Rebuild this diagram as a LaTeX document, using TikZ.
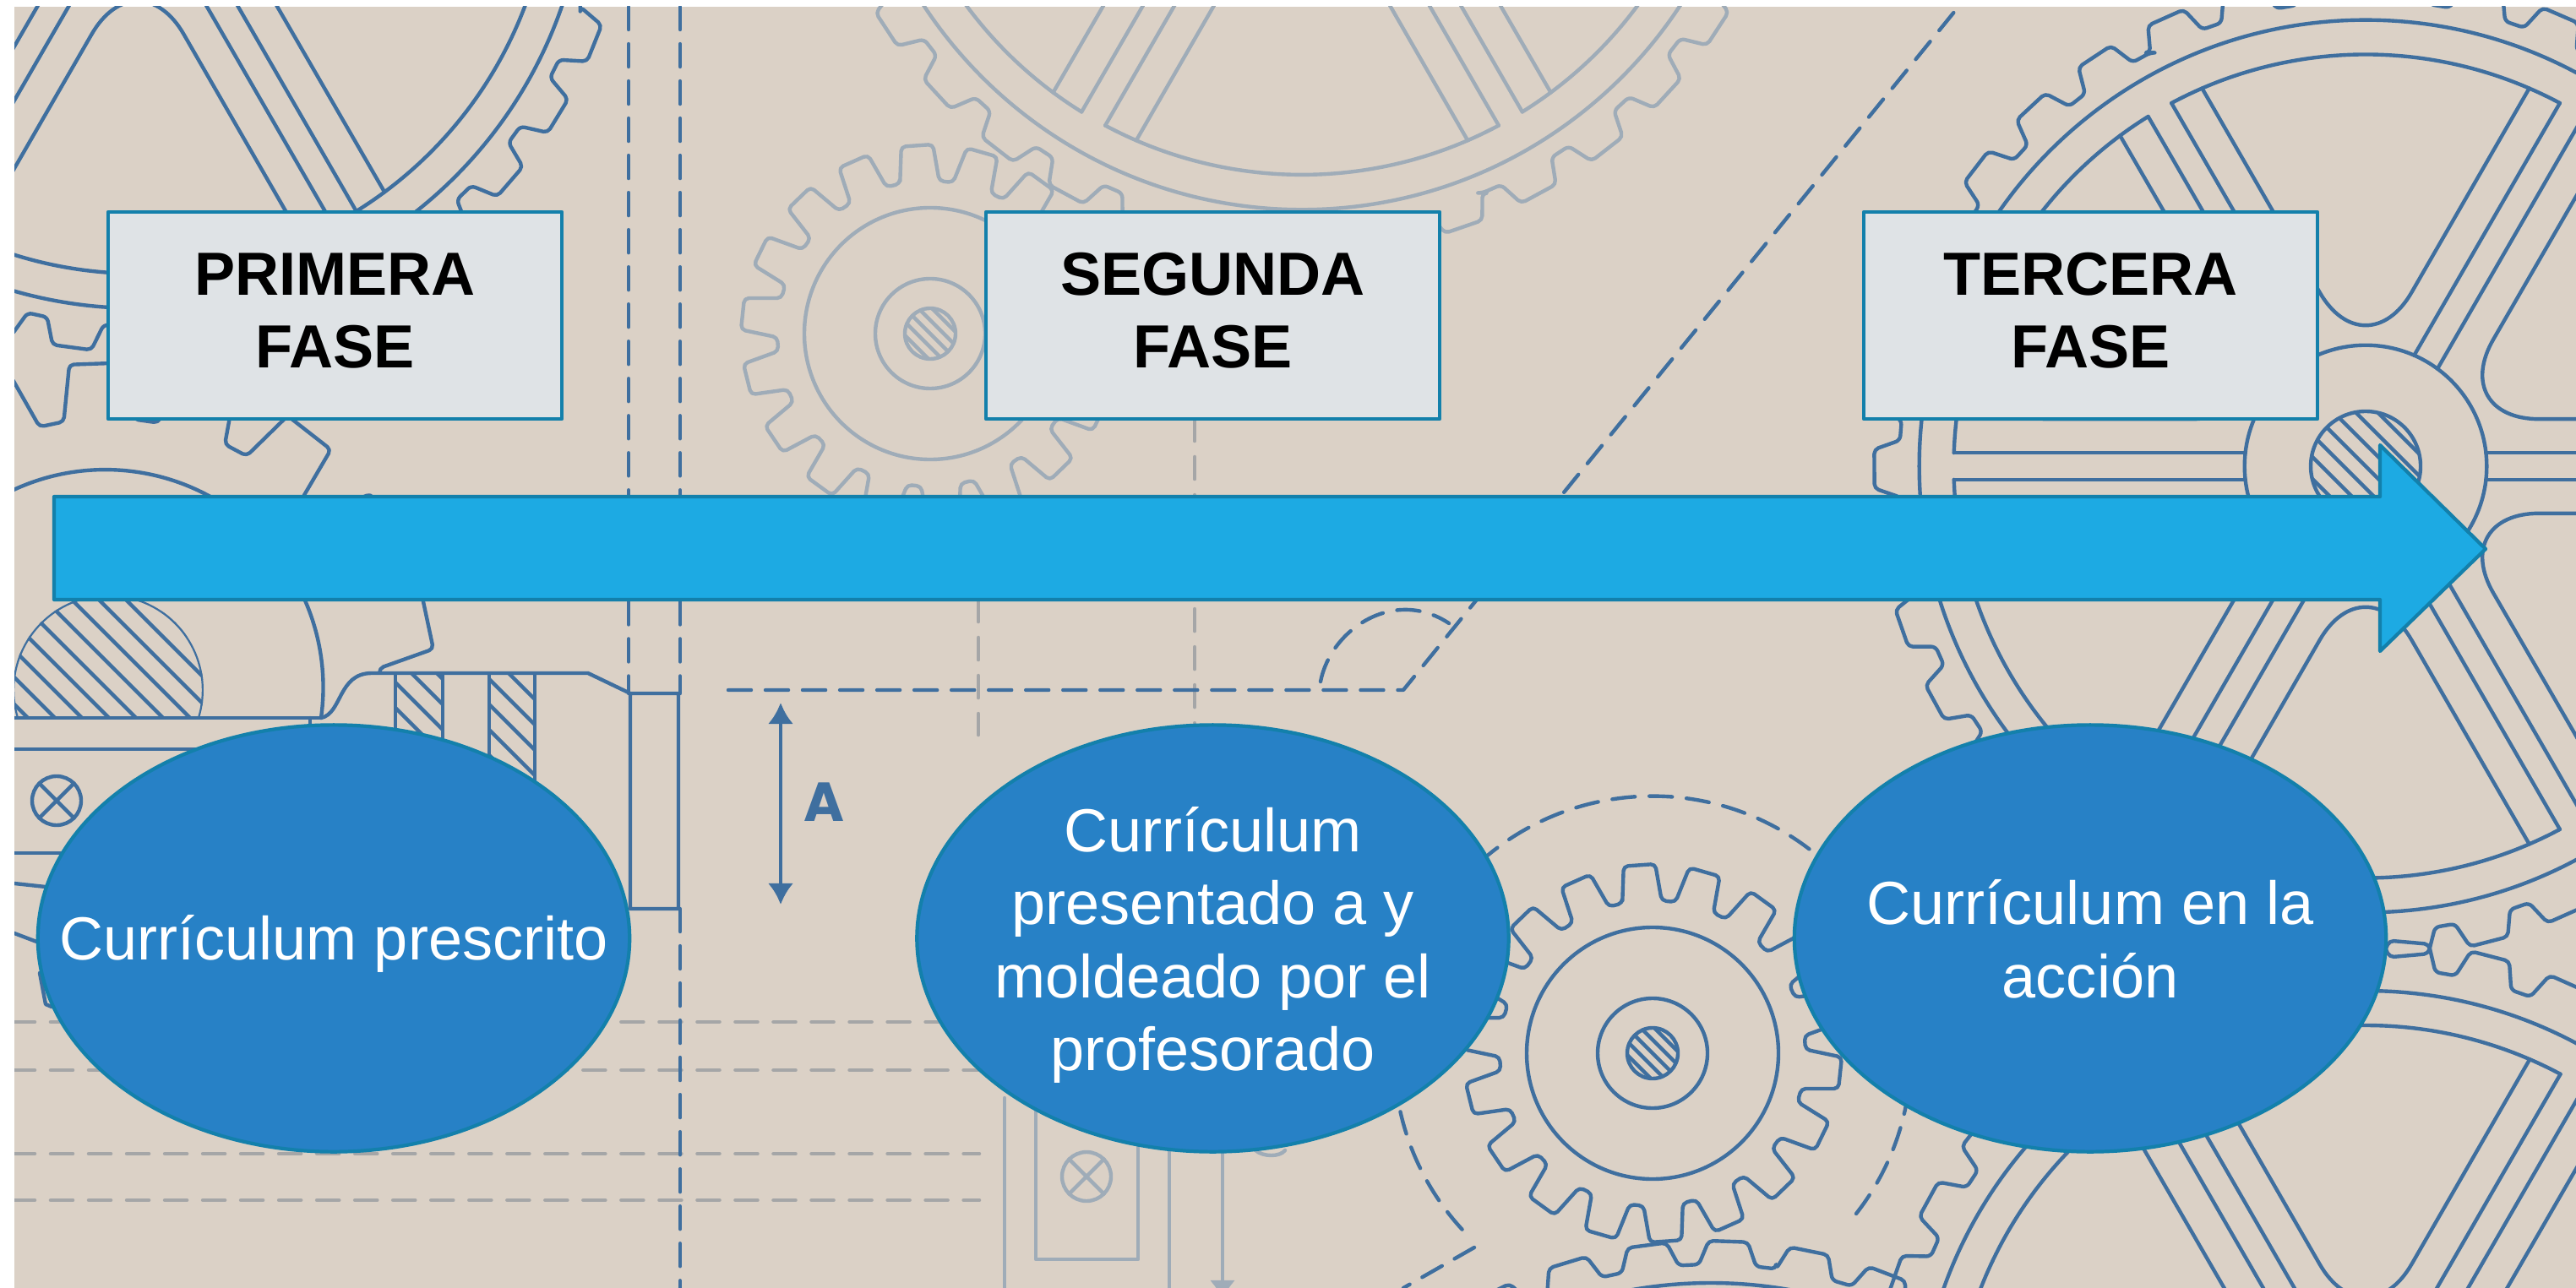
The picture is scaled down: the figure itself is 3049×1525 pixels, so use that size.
\documentclass[tikz,border=0pt]{standalone}
\usepackage{fontspec}
\setmainfont{Liberation Sans}
\newfontfamily\dimfont{Poppins}
\usetikzlibrary{arrows.meta}
\usetikzlibrary{shapes.geometric}
\definecolor{paper}{HTML}{DBD1C6}
\definecolor{gearblue}{HTML}{3F6F9F}
\definecolor{fadedblue}{HTML}{9FACB8}
\definecolor{dashgrey}{HTML}{A5A6A7}
\definecolor{rimteal}{HTML}{1380AB}
\definecolor{boxgrey}{HTML}{DFE3E6}
\definecolor{shaftblue}{HTML}{1DAAE3}
\definecolor{ovalblue}{HTML}{2781C6}
\tikzset{
  gearline/.style={color=gearblue,line width=1.25pt},
  fadedline/.style={color=fadedblue,line width=1.25pt},
  longdash/.style={dash pattern=on 0.27cm off 0.17cm},
  greydash/.style={color=dashgrey,line width=1.3pt,dash pattern=on 0.26cm off 0.19cm},
  fasebox/.style={draw=rimteal,fill=boxgrey,line width=1.2pt,minimum width=5.37cm,minimum height=2.45cm,
    inner sep=0pt,align=center,font=\fontsize{20.5}{24.5}\selectfont\bfseries},
  faseoval/.style={draw=rimteal,fill=ovalblue,line width=1.2pt,ellipse,minimum width=7.0cm,minimum height=5.05cm,inner sep=0pt},
  ovaltext/.style={text=white,align=center,inner sep=0pt,font=\fontsize{20.5}{24.6}\selectfont},
}
% teeth: cx, cy, root radius, tip radius, number, phase
\newcommand{\gearteeth}[6]{%
  \begin{scope}[shift={(#1,#2)},rounded corners=1.5pt]
  \pgfmathsetmacro{\toothstep}{360/#5}
  \draw ({#6-.37*\toothstep}:#3)
    \foreach \k in {1,...,#5} {
      -- ({#6+(\k-1)*\toothstep-.24*\toothstep}:#4)
      -- ({#6+(\k-1)*\toothstep+.24*\toothstep}:#4)
      -- ({#6+(\k-1)*\toothstep+.37*\toothstep}:#3)
      -- ({#6+\k*\toothstep-.37*\toothstep}:#3)
    } -- cycle;
  \end{scope}}
% six spoked wheel: cx, cy, scale
\newcommand{\spokedwheel}[3]{%
  \begin{scope}[shift={(#1,#2)},scale=#3]
  \draw (0,0) circle (144);
  \draw (0,0) circle (531);
  \foreach \a in {0,60,...,300} {
    \draw [rotate=\a] (143,16) -- (489.7,16);
    \draw [rotate=\a] (143,-16) -- (489.7,-16);
    \draw ({\a+1.87}:490) arc [start angle=\a+1.87,end angle=\a+58.13,radius=490];
    \draw [rounded corners=1.09cm] ({\a+6.6}:490) -- ({\a+30}:112) -- ({\a+53.4}:490);
  }
  \end{scope}}
% small wheel with hatched shaft: cx, cy, phase
\newcommand{\smallwheel}[3]{%
  \gearteeth{#1}{#2}{181}{224}{18}{#3}
  \draw (#1,#2) circle (149);
  \draw (#1,#2) circle (65);
  \begin{scope}
  \clip (#1,#2) circle (30);
  \hatchlines{#1}{#2}{30}{8}
  \end{scope}
  \draw (#1,#2) circle (30);}
% hatching: cx, cy, half size, step
\newcommand{\hatchlines}[4]{%
  \foreach \k in {-8,...,8} {
    \draw ({#1-1.5*#3+\k*#4},{#2-1.5*#3-\k*#4}) -- ({#1+1.5*#3+\k*#4},{#2+1.5*#3-\k*#4});
  }}
\begin{document}
\begin{tikzpicture}[line cap=round,line join=round,x=0.01cm,y=-0.01cm]
\useasboundingbox (0,0) rectangle (3049,1525);
\fill [paper] (17,8) rectangle (3049,1525);

\begin{scope}
\clip (17,8) rectangle (3049,1525);
%faded part of the plan
\begin{scope}[fadedline]
\spokedwheel{1541}{-287}{1.008}
\gearteeth{1541}{-287}{558}{588}{38}{71}
\smallwheel{1101}{395}{-94}
\draw (1226,1300) rectangle (1347,1491);
\draw (1286,1393) circle (29);
\draw [rotate around={45:(1286,1393)}] (1257,1393) -- (1315,1393);
\draw [rotate around={-45:(1286,1393)}] (1257,1393) -- (1315,1393);
\draw (1189,1300) -- (1189,1525);
\draw (1384,1300) -- (1384,1525);
\draw (1486,1362) .. controls (1495,1370) and (1515,1370) .. (1521,1362);
\coordinate (footTop) at (1447,1300);
\coordinate (footEnd) at (1447,1540);
\draw [-{Latex[length=0.24cm,width=0.3cm]}] (footTop) -- (footEnd);
\end{scope}
\draw [greydash] (15,1210) -- (1159,1210);
\draw [greydash] (15,1267) -- (1159,1267);
\draw [greydash] (15,1366) -- (1159,1366);
\draw [greydash] (15,1421) -- (1159,1421);
\draw [greydash] (1158,710) -- (1158,870);
\draw [greydash] (1414,496) -- (1414,870);

%dark part of the plan
\begin{scope}[gearline]
\spokedwheel{163}{-166}{1.0}
\gearteeth{163}{-166}{552}{583}{38}{21.9}
\spokedwheel{2800}{552}{0.995}
\gearteeth{2800}{552}{552}{582}{38}{-114}
\begin{scope}
\clip (2800,552) circle (65);
\hatchlines{2800}{552}{65}{13}
\end{scope}
\draw (2800,552) circle (65);
\spokedwheel{2800}{1703}{0.998}
\gearteeth{2800}{1703}{558}{590}{38}{-85}
\draw (2025,2052) circle (533);
\gearteeth{2025}{2052}{555}{583}{38}{-78.5}
\smallwheel{1956}{1247}{-94}
\draw [longdash] (2197,1437) arc [start angle=38,end angle=-225.4,radius=306];
\draw [longdash] (1745,1477) -- (1661,1525);

%pinion on the left
\begin{scope}
\clip (17,8) rectangle (800,797);
\gearteeth{128}{817}{322}{388}{18}{-12}
\end{scope}
\draw (380,850) arc [start angle=8,end angle=-180,radius=258];
\begin{scope}
\clip (17,600) rectangle (400,850);
\clip (128,817) circle (113);
\hatchlines{128}{817}{113}{16}
\draw (128,817) circle (113);
\end{scope}
\begin{scope}
\clip (468,798) rectangle (524,874);
\hatchlines{496}{836}{50}{15}
\end{scope}
\begin{scope}
\clip (579,798) rectangle (633,924);
\hatchlines{606}{861}{70}{15}
\end{scope}
\draw (468,798) -- (468,874);
\draw (524,798) -- (524,874);
\draw (579,798) -- (579,924);
\draw (633,798) -- (633,924);
\draw (17,850) -- (380,850);
\draw (17,887) -- (300,887);
\draw (367,850) -- (367,860);
\draw (380,850) .. controls (405,845) and (400,797) .. (440,797) -- (696,797) -- (746,821) -- (803,821) -- (803,1076) -- (746,1076) -- (746,821);
\draw (67,948) circle (29);
\draw [rotate around={45:(67,948)}] (38,948) -- (96,948);
\draw [rotate around={-45:(67,948)}] (38,948) -- (96,948);
\draw (17,1010) -- (73,1010);
\draw (17,1046) -- (54,1050);
\draw (17,1105) -- (46,1116);
\draw (47,1152) -- (54,1189) -- (61,1192);

\draw [longdash] (744,8) -- (744,821);
\draw [longdash] (805,8) -- (805,821);
\draw [longdash] (805,1076) -- (805,1525);
\draw [longdash] (862,817) -- (1661,817) -- (2318,8);
\draw [longdash] (1563,807) .. controls (1575,745) and (1650,695) .. (1715,738);

\coordinate (dimTop) at (924,832);
\coordinate (dimEnd) at (924,1071);
\draw [{Latex[length=0.25cm,width=0.3cm]}-{Latex[length=0.25cm,width=0.3cm]}] (dimTop) -- (dimEnd);
\end{scope}
\node [text=gearblue,inner sep=0pt,font=\fontsize{18.5}{22}\dimfont\bfseries] (dimA) at (975,950) {A};
\end{scope}

%the time line
\draw [draw=rimteal,fill=shaftblue,line width=1.2pt] (64,588) -- (2817,588) -- (2817,527) -- (2942,650) -- (2817,771) -- (2817,710) -- (64,710) -- cycle;

\node [fasebox] (primera) at (396.5,373.5) {PRIMERA\\FASE\rule[-3.4pt]{0pt}{0pt}};
\node [fasebox] (segunda) at (1435.5,373.5) {SEGUNDA\\FASE\rule[-3.4pt]{0pt}{0pt}};
\node [fasebox] (tercera) at (2474.5,373.5) {TERCERA\\FASE\rule[-3.4pt]{0pt}{0pt}};

\node [faseoval] (prescrito) at (395,1111) {};
\node [faseoval] (moldeado) at (1435.5,1111) {};
\node [faseoval] (accion) at (2474,1111) {};
\node [ovaltext] (prescritoText) at (395,1117) {Currículum prescrito};
\node [ovaltext] (moldeadoText) at (1435.5,1119) {Currículum\\presentado a y\\moldeado por el\\profesorado};
\node [ovaltext] (accionText) at (2474,1112) {Currículum en la\\acción};
\end{tikzpicture}
\end{document}
